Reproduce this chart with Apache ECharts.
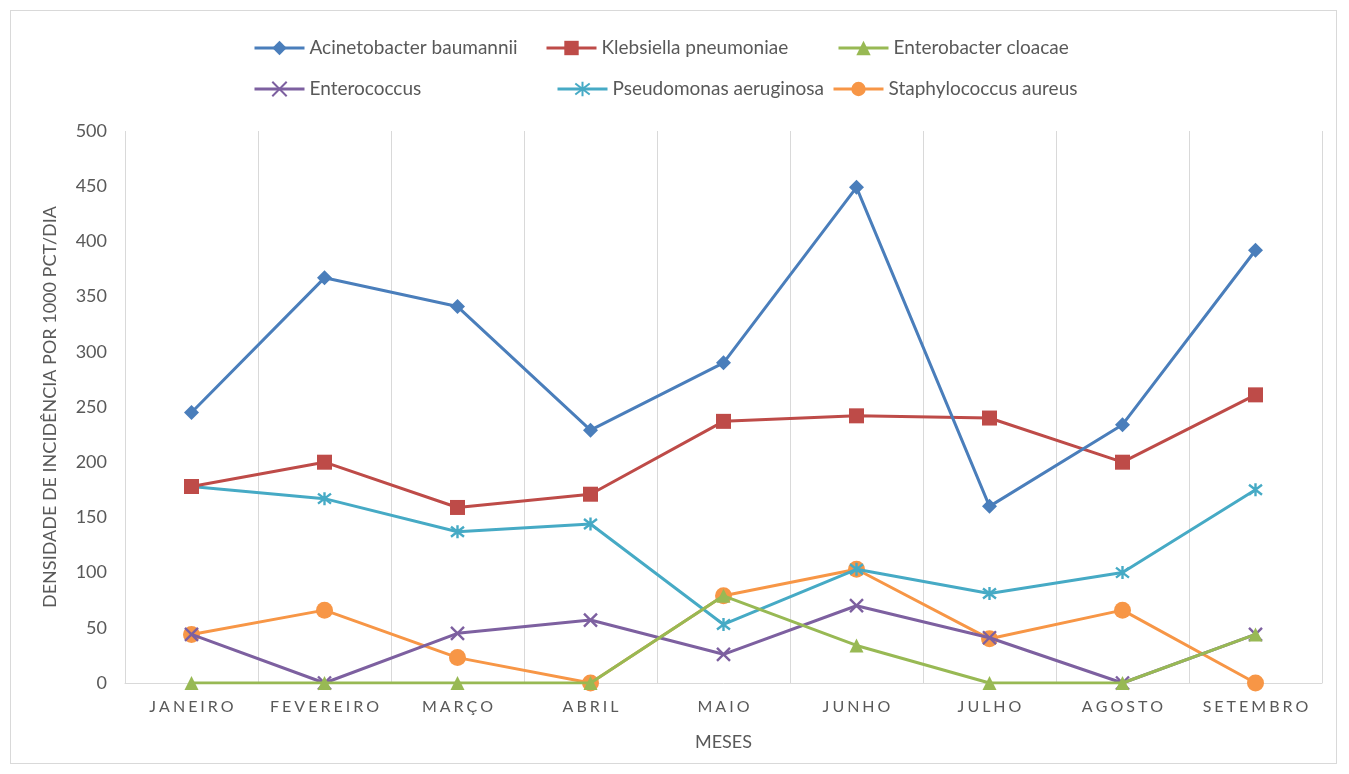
<!DOCTYPE html>
<html><head><meta charset="utf-8">
<script src="https://cdn.jsdelivr.net/npm/echarts@6/dist/echarts.min.js"></script>
<style>html,body{margin:0;padding:0;background:#fff}
#frame{position:absolute;left:10px;top:10px;width:1327px;height:754px;border:1px solid #d9d9d9;box-sizing:border-box}
#c{position:absolute;left:0;top:0;width:1349px;height:774px}</style>
</head><body><div id="frame"></div><div id="c"></div>
<script>
const months = ['JANEIRO','FEVEREIRO','MARÇO','ABRIL','MAIO','JUNHO','JULHO','AGOSTO','SETEMBRO'];
const yTicks = [0,50,100,150,200,250,300,350,400,450,500];
const acinetobacter = [245, 367, 341, 229, 290, 449, 160, 234, 392];
const klebsiella = [178, 200, 159, 171, 237, 242, 240, 200, 261];
const enterobacter = [0, 0, 0, 0, 79, 34, 0, 0, 44];
const enterococcus = [44, 0, 45, 57, 26, 70, 41, 0, 44];
const pseudomonas = [178, 167, 137, 144, 53, 103, 81, 100, 175];
const staphylococcus = [44, 66, 23, 0, 79, 103, 40, 66, 0];

const names = ['Acinetobacter baumannii','Klebsiella pneumoniae','Enterobacter cloacae','Enterococcus','Pseudomonas aeruginosa','Staphylococcus aureus'];
const colors = ['#4A7EBB','#BE4B48','#98B954','#7D60A0','#46AAC5','#F79646'];
const dataSets = [acinetobacter, klebsiella, enterobacter, enterococcus, pseudomonas, staphylococcus];
const xPath = 'path://M0,0L10,10M10,0L0,10';
const starPath = 'path://M0,0L10,10M10,0L0,10M5,-1.5L5,11.5';
const symbols = ['diamond','rect','triangle',xPath,starPath,'circle'];
const sizes = [15,15,14,13,13,17];
const FONT = 'Lato, "Open Sans", sans-serif';
const legendPos = [[248,33],[540,33],[832,33],[248,74],[551,74],[827,74]];

const chart = echarts.init(document.getElementById('c'));
const series = dataSets.map((d,i)=>{
  const isPath = i===3 || i===4;
  return {
    name: names[i], type:'line', data:d,
    symbol: symbols[i], symbolSize: sizes[i],
    showSymbol:true,
    lineStyle:{color:colors[i], width:3},
    itemStyle: isPath ? {color:'rgba(0,0,0,0)', borderColor:colors[i], borderWidth:2.4} : {color:colors[i], borderWidth:0},
    emphasis:{disabled:true},
    z: 10-i
  };
});
const legends = names.map((n,i)=>({
  data:[{name:n, itemStyle: (i===3||i===4)?{color:'rgba(0,0,0,0)',borderColor:colors[i],borderWidth:2}:{color:colors[i]}, lineStyle:{width:3}}],
  left: legendPos[i][0], top: legendPos[i][1],
  itemWidth: 50, itemHeight: 18, itemGap: 3,
  textStyle:{fontFamily:FONT, fontSize:19, lineHeight:20, color:'#595959', padding:[0,0,0,0]}
}));
chart.setOption({
  animation:false,
  legend: legends,
  grid:{left:125, right:27, top:131, bottom:91, containLabel:false},
  xAxis:{
    type:'category', data:months, boundaryGap:true,
    axisLine:{show:true, lineStyle:{color:'#d9d9d9', width:1}},
    axisTick:{show:false},
    splitLine:{show:true, interval:0, lineStyle:{color:'#d9d9d9', width:1}},
    axisLabel:{fontFamily:FONT, fontSize:16, color:'#595959', margin:16, interval:0,
      formatter: v => v.split('').join('\u2009\u200a')},
    name:'MESES', nameLocation:'middle', nameGap:50,
    nameTextStyle:{fontFamily:FONT, fontSize:18, color:'#595959'}
  },
  yAxis:{
    type:'value', min:yTicks[0], max:yTicks[yTicks.length-1], interval:50,
    axisLine:{show:false}, axisTick:{show:false},
    splitLine:{show:false},
    axisLabel:{fontFamily:FONT, fontSize:18, color:'#595959', margin:18},
    name:'DENSIDADE DE INCIDÊNCIA POR 1000 PCT/DIA', nameLocation:'middle', nameGap:66, nameRotate:90,
    nameTextStyle:{fontFamily:FONT, fontSize:18, color:'#595959'}
  },
  series
});
</script></body></html>
